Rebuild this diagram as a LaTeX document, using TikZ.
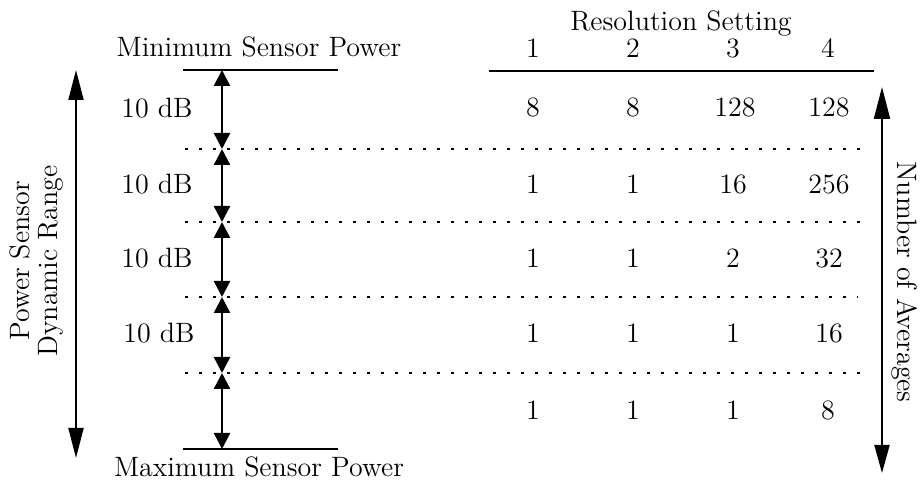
\documentclass[tikz,border=0pt]{standalone}
\usetikzlibrary{arrows.meta}
\begin{document}
\begin{tikzpicture}[x=0.5pt,y=-0.5pt,
  txt/.style={font=\fontsize{14}{14}\selectfont, inner sep=0pt},
  bigarr/.style={line width=1pt, {Triangle[length=15pt,width=7.5pt]}-{Triangle[length=15pt,width=7.5pt]}},
  rightarr/.style={line width=1pt, {Triangle[length=16pt,width=8pt]}-{Triangle[length=14pt,width=7.5pt]}},
  smallarr/.style={line width=1.2pt, {Triangle[length=8pt,width=8pt]}-{Triangle[length=8pt,width=8pt]}},
  solidline/.style={line width=1.4pt},
  dotline/.style={line width=1.2pt, dash pattern=on 1.3pt off 5.7pt}
]
\useasboundingbox (0,0) rectangle (923,481);

% top and bottom sensor power lines
\coordinate (topL) at (183,70);
\coordinate (topR) at (338,70);
\coordinate (botL) at (183,449);
\coordinate (botR) at (338,449);
\draw[solidline] (topL) -- (topR);
\draw[solidline] (botL) -- (botR);
\node[txt, anchor=base] (minp) at (259,57) {Minimum Sensor Power};
\node[txt, anchor=base] (maxp) at (259,477) {Maximum Sensor Power};

% header of table
\coordinate (hdL) at (489,71);
\coordinate (hdR) at (874,71);
\draw[solidline] (hdL) -- (hdR);
\node[txt, anchor=base] (res) at (681,31) {Resolution Setting};
\node[txt, anchor=base] (c1) at (533,58) {1};
\node[txt, anchor=base] (c2) at (633,58) {2};
\node[txt, anchor=base] (c3) at (733,58) {3};
\node[txt, anchor=base] (c4) at (828,58) {4};

% dotted separators
\coordinate (d1L) at (185,149); \coordinate (d1R) at (868,149);
\coordinate (d2L) at (185,222); \coordinate (d2R) at (868,222);
\coordinate (d3L) at (185,297); \coordinate (d3R) at (858,297);
\coordinate (d4L) at (185,373); \coordinate (d4R) at (868,373);
\draw[dotline] (d1L) -- (d1R);
\draw[dotline] (d2L) -- (d2R);
\draw[dotline] (d3L) -- (d3R);
\draw[dotline] (d4L) -- (d4R);

% small arrows
\coordinate (m0) at (222,70);
\coordinate (m1) at (222,149);
\coordinate (m2) at (222,222);
\coordinate (m3) at (222,297);
\coordinate (m4) at (222,373);
\coordinate (m5) at (222,449);
\draw[smallarr] (m0) -- (m1);
\draw[smallarr] (m1) -- (m2);
\draw[smallarr] (m2) -- (m3);
\draw[smallarr] (m3) -- (m4);
\draw[smallarr] (m4) -- (m5);

% 10 dB labels
\node[txt, anchor=base] (db1) at (157,118) {10 dB};
\node[txt, anchor=base] (db2) at (157,194) {10 dB};
\node[txt, anchor=base] (db3) at (157,268) {10 dB};
\node[txt, anchor=base] (db4) at (159,343) {10 dB};

% table values
\node[txt, anchor=base] (r1a) at (533,117) {8};
\node[txt, anchor=base] (r1b) at (633,117) {8};
\node[txt, anchor=base] (r1c) at (735,117) {128};
\node[txt, anchor=base] (r1d) at (829,117) {128};

\node[txt, anchor=base] (r2a) at (533,194) {1};
\node[txt, anchor=base] (r2b) at (633,194) {1};
\node[txt, anchor=base] (r2c) at (733,194) {16};
\node[txt, anchor=base] (r2d) at (829,194) {256};

\node[txt, anchor=base] (r3a) at (533,268) {1};
\node[txt, anchor=base] (r3b) at (633,268) {1};
\node[txt, anchor=base] (r3c) at (733,268) {2};
\node[txt, anchor=base] (r3d) at (829,268) {32};

\node[txt, anchor=base] (r4a) at (533,343) {1};
\node[txt, anchor=base] (r4b) at (633,343) {1};
\node[txt, anchor=base] (r4c) at (733,343) {1};
\node[txt, anchor=base] (r4d) at (829,343) {16};

\node[txt, anchor=base] (r5a) at (533,420) {1};
\node[txt, anchor=base] (r5b) at (633,420) {1};
\node[txt, anchor=base] (r5c) at (733,420) {1};
\node[txt, anchor=base] (r5d) at (828,420) {8};

% left dynamic range arrow
\coordinate (lt) at (76,70);
\coordinate (lb) at (76,458);
\draw[bigarr] (lt) -- (lb);
\node[txt, rotate=90, align=center] (pdr) at (37,261) {Power Sensor\\Dynamic Range};

% right averages arrow
\coordinate (rt) at (882,87);
\coordinate (rb) at (882,473);
\draw[rightarr] (rt) -- (rb);
\node[txt, rotate=-90] (noa) at (905,282) {Number of Averages};
\end{tikzpicture}
\end{document}
